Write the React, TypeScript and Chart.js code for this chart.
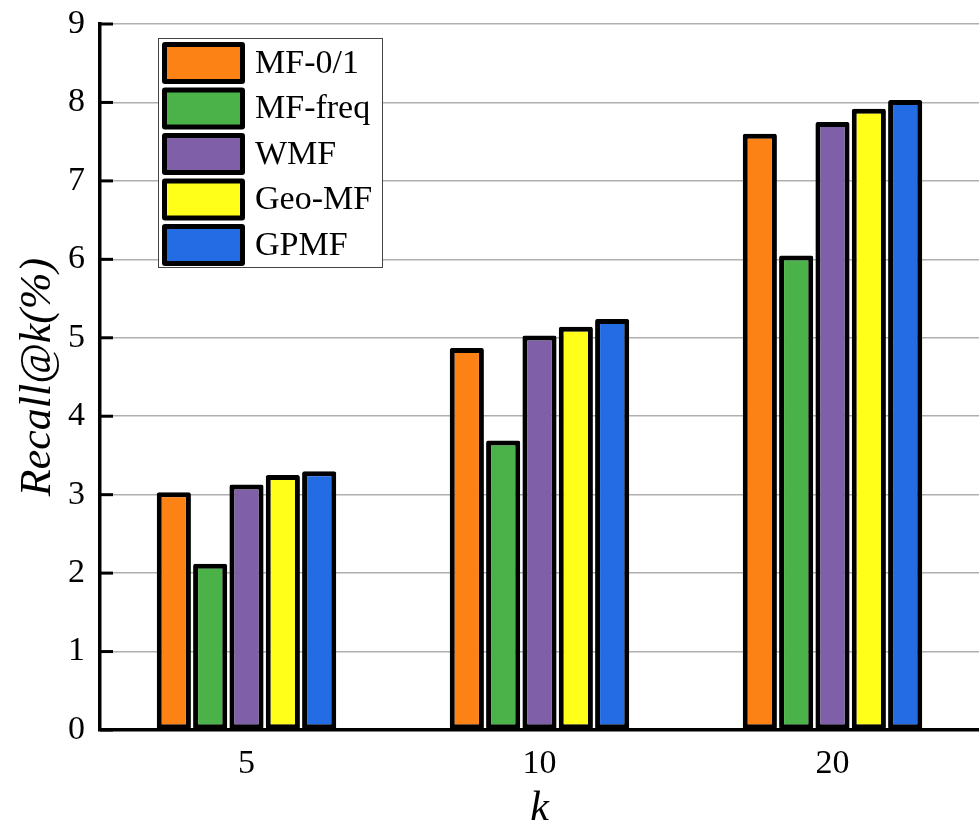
import React, { useEffect, useRef } from "react";
import { Chart, registerables } from "chart.js";

Chart.register(...registerables);

// Recall@k (%) for each method at k = 5, 10, 20
const categories = ["5", "10", "20"];
const seriesNames = ["MF-0/1", "MF-freq", "WMF", "Geo-MF", "GPMF"];
const mf01 = [3.03, 4.87, 7.6];
const mfFreq = [2.12, 3.69, 6.05];
const wmf = [3.13, 5.03, 7.75];
const geoMf = [3.25, 5.14, 7.92];
const gpmf = [3.3, 5.24, 8.03];
const seriesColors = ["#FC8215", "#4BB24A", "#7F5FA8", "#FFFF19", "#246CE4"];
const yTicks = [0, 1, 2, 3, 4, 5, 6, 7, 8, 9];

const FONT = "'Liberation Serif', 'Times New Roman', serif";

// Short black tick marks pointing into the plot from the y axis
const innerTicks = {
  id: "innerTicks",
  afterDatasetsDraw(chart: any) {
    const y = chart.scales.y;
    const left = chart.chartArea.left;
    const ctx = chart.ctx;
    ctx.save();
    ctx.strokeStyle = "#000";
    ctx.lineWidth = 3;
    for (const v of yTicks) {
      const py = y.getPixelForValue(v);
      ctx.beginPath();
      ctx.moveTo(left, py);
      ctx.lineTo(left + 13, py);
      ctx.stroke();
    }
    ctx.restore();
  },
};

// Boxed legend inside the upper-left corner of the plot
const boxLegend = {
  id: "boxLegend",
  afterDraw(chart: any) {
    const ctx = chart.ctx;
    const { left, top } = chart.chartArea;
    const bx = left + 58;
    const by = top + 14;
    const bw = 225;
    const bh = 230;
    ctx.save();
    ctx.fillStyle = "#fff";
    ctx.fillRect(bx, by, bw, bh);
    ctx.strokeStyle = "#444";
    ctx.lineWidth = 1;
    ctx.strokeRect(bx + 0.5, by + 0.5, bw - 1, bh - 1);
    const pitch = 45.5;
    chart.data.datasets.forEach((ds: any, i: number) => {
      const sy = by + 4 + i * pitch;
      const sx = bx + 4;
      const sw = 83;
      const sh = 42;
      ctx.fillStyle = "#000";
      ctx.beginPath();
      ctx.roundRect(sx, sy, sw, sh, 3);
      ctx.fill();
      ctx.fillStyle = ds.backgroundColor;
      ctx.fillRect(sx + 5, sy + 5, sw - 10, sh - 10);
      ctx.fillStyle = "#000";
      ctx.font = `34px ${FONT}`;
      ctx.textBaseline = "middle";
      ctx.textAlign = "left";
      ctx.fillText(ds.label, bx + 97, sy + sh / 2 + 1);
    });
    ctx.restore();
  },
};

export default function App() {
  const canvasRef = useRef<HTMLCanvasElement | null>(null);

  useEffect(() => {
    const values = [mf01, mfFreq, wmf, geoMf, gpmf];
    const chart = new Chart(canvasRef.current!, {
      type: "bar",
      data: {
        labels: categories,
        datasets: seriesNames.map((name, i) => ({
          label: name,
          data: values[i],
          backgroundColor: seriesColors[i],
          borderColor: "#000",
          borderWidth: 5,
          borderSkipped: false,
          borderRadius: 2,
          inflateAmount: 0,
          categoryPercentage: 0.62,
          barPercentage: 0.94,
        })),
      },
      options: {
        responsive: false,
        animation: false,
        layout: { padding: { top: 24, right: 0, left: 0, bottom: 0 } },
        plugins: {
          legend: { display: false },
          tooltip: { enabled: false },
        },
        scales: {
          x: {
            grid: { display: false },
            border: { display: true, color: "#000", width: 3.5 },
            ticks: {
              color: "#000",
              font: { family: FONT, size: 34 },
              padding: 6,
            },
            title: {
              display: true,
              text: "k",
              color: "#000",
              font: { family: FONT, size: 42, style: "italic", lineHeight: 0.6 },
              padding: { top: 0, bottom: 0 },
            },
            afterFit(scale: any) {
              scale.height = 92;
              scale.paddingLeft = 0;
              scale.paddingRight = 0;
            },
          },
          y: {
            min: 0,
            max: 9,
            afterBuildTicks(scale: any) {
              scale.ticks = yTicks.map((v) => ({ value: v }));
            },
            grid: {
              color: "#b0b0b0",
              lineWidth: 1.5,
              drawTicks: false,
            },
            border: { display: true, color: "#000", width: 3.5 },
            ticks: {
              color: "#000",
              font: { family: FONT, size: 34 },
              padding: 15,
            },
            title: {
              display: true,
              text: "Recall@k(%)",
              color: "#000",
              font: { family: FONT, size: 44, style: "italic", lineHeight: 1.2 },
              padding: { top: 12, bottom: 0 },
            },
            afterFit(scale: any) {
              scale.width = 100;
              scale.paddingTop = 0;
              scale.paddingBottom = 0;
            },
          },
        },
      },
      plugins: [innerTicks, boxLegend],
    });
    return () => chart.destroy();
  }, []);

  return (
    <div style={{ position: "absolute", left: 0, top: 0, width: 979, height: 822, background: "#fff" }}>
      <canvas ref={canvasRef} width={979} height={822} />
    </div>
  );
}
